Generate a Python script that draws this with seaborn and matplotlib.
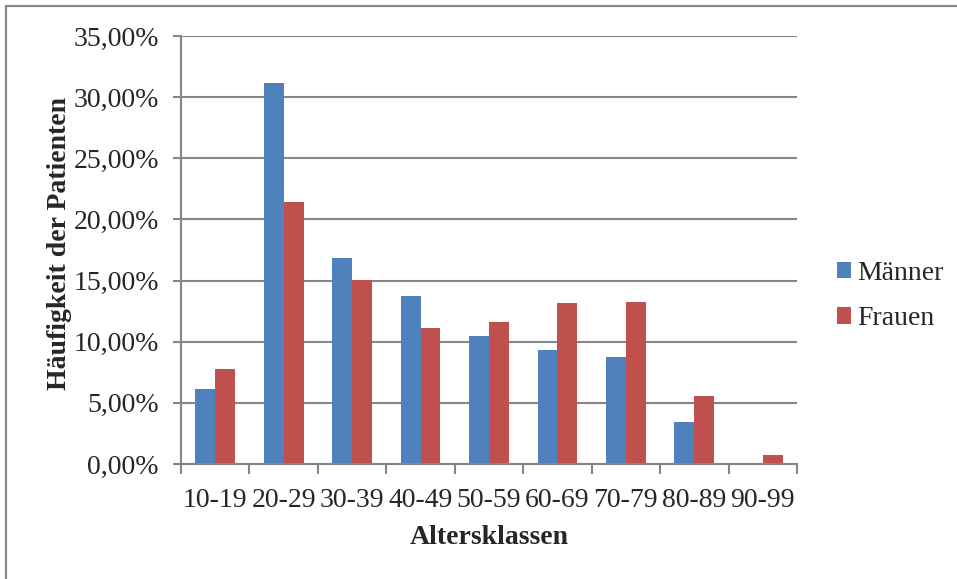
import matplotlib
matplotlib.use("Agg")
import matplotlib.pyplot as plt
from matplotlib.patches import Patch, Rectangle
from matplotlib.ticker import FuncFormatter, FixedLocator
import pandas as pd
import seaborn as sns

# Altersklassen und Anteile (in Prozent) je Geschlecht
altersklassen = ["10-19", "20-29", "30-39", "40-49", "50-59",
                 "60-69", "70-79", "80-89", "90-99"]
maenner = [6.13, 31.15, 16.88, 13.72, 10.44, 9.29, 8.72, 3.44, 0.10]
frauen = [7.76, 21.43, 15.06, 11.16, 11.61, 13.15, 13.25, 5.60, 0.77]
serien = ["Männer", "Frauen"]
farben = ["#4F81BD", "#C0504D"]
y_ticks = [0, 5, 10, 15, 20, 25, 30, 35]

df = pd.DataFrame({
    "Altersklasse": altersklassen * 2,
    "Anteil": maenner + frauen,
    "Geschlecht": [serien[0]] * len(altersklassen) + [serien[1]] * len(altersklassen),
})

sns.set_style("white")
plt.rcParams["font.family"] = ["Liberation Serif", "DejaVu Serif"]

grau = "#868686"
fs = 20

fig = plt.figure(figsize=(9.57, 5.79), dpi=100)
ax = fig.add_axes([181 / 957, 1 - 464 / 579, (797 - 181) / 957, (464 - 36) / 579])

sns.barplot(data=df, x="Altersklasse", y="Anteil", hue="Geschlecht",
            hue_order=serien, palette=farben, order=altersklassen,
            width=0.58, gap=0, saturation=1, edgecolor="none",
            legend=False, ax=ax, zorder=3)

ax.set_xlim(-0.5, len(altersklassen) - 0.5)
ax.set_ylim(0, 35)
ax.set_yticks(y_ticks)
ax.yaxis.set_major_formatter(FuncFormatter(lambda v, p: f"{v:.2f}".replace(".", ",") + "%"))
ax.grid(axis="y", color=grau, lw=1.5, zorder=0)
ax.grid(axis="x", visible=False)

for side in ["top", "right"]:
    ax.spines[side].set_visible(False)
for side in ["left", "bottom"]:
    ax.spines[side].set_color(grau)
    ax.spines[side].set_linewidth(1.5)
    ax.spines[side].set_zorder(4)

ax.tick_params(axis="y", direction="out", length=6, width=1.5, color=grau,
               labelsize=fs, pad=10, left=True)
ax.tick_params(axis="x", which="major", length=0, labelsize=fs, pad=17)
ax.xaxis.set_minor_locator(FixedLocator([i - 0.5 for i in range(len(altersklassen) + 1)]))
ax.tick_params(axis="x", which="minor", direction="out", length=7, width=1.5,
               color=grau, bottom=True)

ax.set_xlabel("Altersklassen", fontsize=fs, fontweight="bold", labelpad=9)
ax.set_ylabel("Häufigkeit der Patienten", fontsize=fs, fontweight="bold")
ax.yaxis.set_label_coords(-0.177, 0.516)

handles = [Patch(facecolor=c, edgecolor="none") for c in farben]
fig.legend(handles, serien, loc="center left", bbox_to_anchor=(837 / 957, 1 - 296 / 579),
           frameon=False, fontsize=fs, handlelength=0.52, handleheight=0.52,
           handletextpad=0.22, labelspacing=0.75, borderpad=0, borderaxespad=0)

# Rahmen des Diagrammbereichs
fig.patches.append(Rectangle((5.5 / 957, -0.1), 1.2, 1 - 5.5 / 579 + 0.1,
                             transform=fig.transFigure, fill=False,
                             edgecolor="#898989", lw=1.6))

fig.savefig("out.png", dpi=100)
